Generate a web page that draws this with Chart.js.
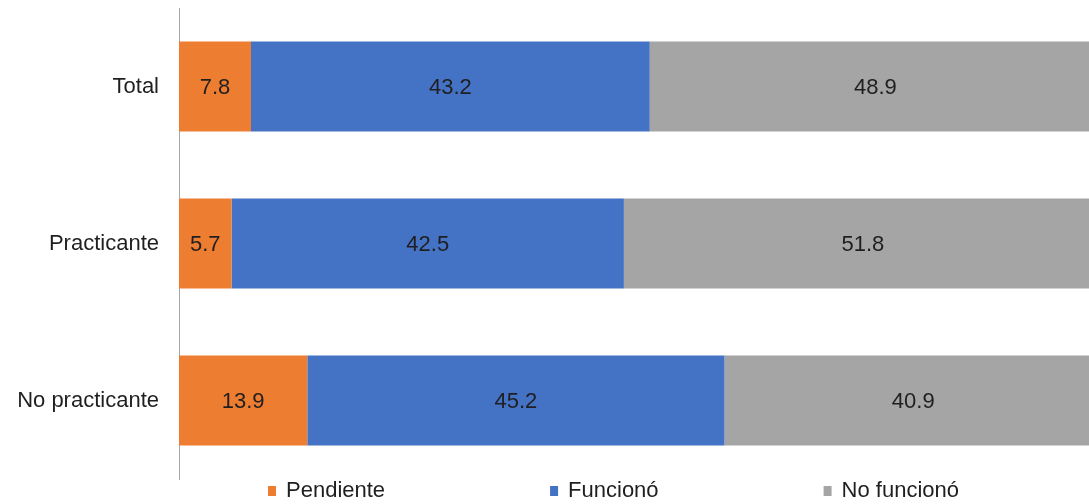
<!DOCTYPE html>
<html>
<head>
<meta charset="utf-8">
<script src="https://cdn.jsdelivr.net/npm/chart.js@4/dist/chart.umd.min.js"></script>
<style>
  html, body { margin: 0; padding: 0; background: #fff; overflow: hidden; }
  #wrap { width: 1102px; height: 504px; }
</style>
</head>
<body>
<div id="wrap"><canvas id="chart" width="1102" height="504"></canvas></div>
<script>
// Data (percentages)
const categories = ['Total', 'Practicante', 'No practicante'];
const pendiente = [7.8, 5.7, 13.9];
const funciono = [43.2, 42.5, 45.2];
const noFunciono = [48.9, 51.8, 40.9];

const FONT = '"Liberation Sans", Arial, sans-serif';
const TEXT = '#1f1f1f';

// Value labels centred in each bar segment
const barValueLabels = {
    id: 'barValueLabels',
    afterDatasetsDraw(chart) {
        const ctx = chart.ctx;
        ctx.save();
        ctx.font = '22px ' + FONT;
        ctx.fillStyle = TEXT;
        ctx.textAlign = 'center';
        ctx.textBaseline = 'middle';
        chart.data.datasets.forEach((ds, i) => {
            chart.getDatasetMeta(i).data.forEach((bar, j) => {
                const cx = (bar.x + bar.base) / 2;
                ctx.fillText(ds.data[j].toFixed(1), cx, bar.y + 1);
            });
        });
        ctx.restore();
    }
};

// Excel-style legend: small boxes, wide even spacing, under the plot
const spacedLegend = {
    id: 'spacedLegend',
    afterDraw(chart, args, opts) {
        const ctx = chart.ctx;
        ctx.save();
        ctx.font = '22px ' + FONT;
        ctx.textBaseline = 'middle';
        let x = opts.x;
        chart.data.datasets.forEach(ds => {
            ctx.fillStyle = ds.backgroundColor;
            ctx.fillRect(x, opts.y - 5, 8, 10);
            ctx.fillStyle = TEXT;
            ctx.fillText(ds.label, x + 18, opts.y);
            x += 18 + ctx.measureText(ds.label).width + opts.gap;
        });
        ctx.restore();
    }
};

new Chart(document.getElementById('chart'), {
    type: 'bar',
    data: {
        labels: categories,
        datasets: [
            { label: 'Pendiente', data: pendiente, backgroundColor: '#ED7D31' },
            { label: 'Funcionó', data: funciono, backgroundColor: '#4472C4' },
            { label: 'No funcionó', data: noFunciono, backgroundColor: '#A5A5A5' }
        ]
    },
    options: {
        indexAxis: 'y',
        responsive: false,
        animation: false,
        layout: { padding: { top: 8, bottom: 25, left: 0, right: 0 } },
        datasets: {
            bar: { categoryPercentage: 1, barPercentage: 0.573 }
        },
        plugins: {
            legend: { display: false },
            tooltip: { enabled: false },
            spacedLegend: { x: 268, y: 491, gap: 165 }
        },
        scales: {
            x: {
                stacked: true,
                min: 0,
                max: 100,
                display: false
            },
            y: {
                stacked: true,
                afterFit: scale => {
                    scale.width = 179;
                    // don't let label half-heights push the plot area in
                    scale.paddingTop = 0;
                    scale.paddingBottom = 0;
                },
                grid: { display: false, drawTicks: false },
                border: { display: true, color: '#a6a6a6', width: 1 },
                ticks: {
                    padding: 20,
                    color: TEXT,
                    font: { family: FONT, size: 22 }
                }
            }
        }
    },
    plugins: [barValueLabels, spacedLegend]
});
</script>
</body>
</html>
